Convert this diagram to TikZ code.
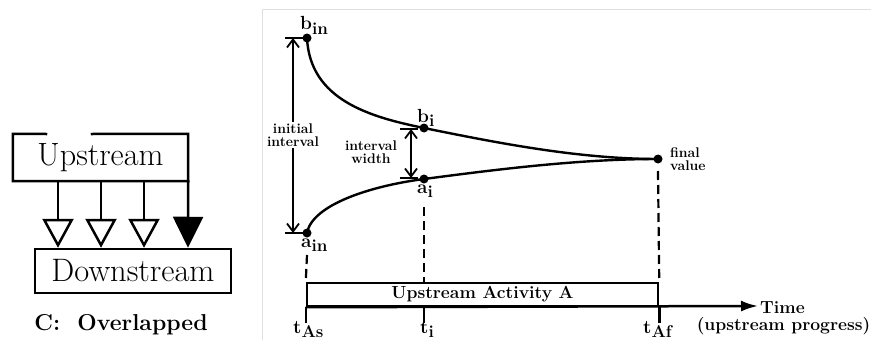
\documentclass[tikz,border=0pt]{standalone}
\usepackage{fontspec}
\usetikzlibrary{arrows.meta}
\newcommand\vsub[2]{#1\raisebox{-4.5pt}{\fontsize{17}{17}\selectfont #2}}
\begin{document}
\begin{tikzpicture}[x=1pt,y=-1pt,
  edge/.style={line width=2.5pt},
  bigtext/.style={font=\fontsize{29.5}{32}\selectfont, inner sep=0pt},
  dot/.style={circle, fill=black, inner sep=0pt, minimum size=9pt},
  lbl/.style={font=\bfseries\fontsize{19}{19}\selectfont, inner sep=0pt, anchor=base west},
  note/.style={font=\bfseries\fontsize{14}{13.5}\selectfont, align=center, inner sep=1pt},
  axistext/.style={font=\bfseries\fontsize{17.5}{18}\selectfont, inner sep=0pt},
  curve/.style={line width=2.4pt},
  drop/.style={line width=2.2pt, dash pattern=on 9pt off 5pt},
  barb/.style={line width=1.8pt},
  openhead/.style={-{Triangle[open,length=29pt,width=31pt,line width=2.5pt]}},
  fullhead/.style={-{Triangle[length=31pt,width=30pt]}},
]
\useasboundingbox (0,0) rectangle (871,340);

% ---------------- left: overlapped activities ----------------
\node[bigtext, minimum width=175pt, minimum height=47pt] (up) at (100.5,157.5) {\resizebox{126pt}{!}{Upstream}};
\node[bigtext, draw, edge, minimum width=196pt, minimum height=44pt] (down) at (133,271) {\resizebox{163pt}{!}{Downstream}};
\node[font=\bfseries\fontsize{23}{24}\selectfont, inner sep=0pt] (cap) at (121,325) {C:~~Overlapped};

% upstream box, with the short break in its top edge
\draw[edge, line cap=rect] (46,134) -- (up.north west) -- (up.south west) -- (up.south east);
\draw[edge, line cap=rect] (92,134) -- (up.north east) -- (up.south east);

% information transfer arrows
\foreach \xx in {58,101,144}
  \draw[edge, openhead] (up.south -| \xx,0) -- (down.north -| \xx,0);
\draw[edge, fullhead] (up.south east) -- (down.north -| 188,0);

% ---------------- right: interval narrowing ----------------
\draw[gray!25, line width=1pt] (262,340) -- (262,9) -- (871,9);

\node[dot] (bin) at (307,38) {};
\node[dot] (bi)  at (424,128) {};
\node[dot] (ain) at (307,233) {};
\node[dot] (ai)  at (424,179) {};
\node[dot] (fin) at (658,159) {};

\draw[curve] (bin.center) .. controls (310,100) and (370,117) .. (bi.center)
             .. controls (500,143.5) and (580,159) .. (fin.center);
\draw[curve] (ain.center) .. controls (312,205) and (370,186) .. (ai.center)
             .. controls (500,169) and (580,159) .. (fin.center);

\node[lbl] (lbin) at (300,30)  {\vsub{b}{in}};
\node[lbl] (lbi)  at (417,122) {\vsub{b}{i}};
\node[lbl] (lai)  at (417,193) {\vsub{a}{i}};
\node[lbl] (lain) at (301,247) {\vsub{a}{in}};
\node[note, anchor=west, align=left] (lfin) at (669,159) {final\\value};

% initial interval
\draw[barb] (285,38) -- (303,38);
\draw[barb] (285,233) -- (303,233);
\node[note] (init) at (293,135) {initial\\interval};
\coordinate (itop) at (293,38);
\coordinate (ibot) at (293,233);
\draw[barb, -{Straight Barb[length=8pt,width=12pt]}] (init.north) -- (itop);
\draw[barb, -{Straight Barb[length=8pt,width=12pt]}] (init.south) -- (ibot);

% interval width
\draw[barb] (400,129) -- (418,129);
\draw[barb] (400,178) -- (418,178);
\coordinate (wtop) at (411,129);
\coordinate (wbot) at (411,178);
\draw[barb, {Straight Barb[length=8pt,width=12pt]}-{Straight Barb[length=8pt,width=12pt]}] (wtop) -- (wbot);
\node[note] (wid) at (371,152) {interval\\width};

% activity bar and time axis
\node[draw, edge, minimum width=351pt, minimum height=23pt, inner sep=0pt, axistext] (act) at (482.5,294.5) {Upstream Activity A};
\coordinate (tend) at (758,306);
\draw[edge, -{Latex[length=17pt,width=11pt]}] (act.south west) -- (tend);
\node[axistext, anchor=west] (tlab) at (760,308) {Time};
\node[axistext] (tsub) at (783.5,326) {(upstream progress)};

% projections onto the time axis
\draw[drop] ([yshift=-22pt]ain.center) -- (act.north west);
\draw[drop] ([yshift=-28pt]ai.center) -- (act.north -| ai);
\draw[drop] ([yshift=-12pt]fin.center) -- (act.north east);

\draw[edge] (act.south west) -- ++(0,16);
\draw[edge] (act.south -| ai) -- ++(0,16);
\draw[edge] (act.south east) -- ++(0,16);

\node[lbl] (tas) at (293,333) {\vsub{t}{As}};
\node[lbl] (ti)  at (420,333) {\vsub{t}{i}};
\node[lbl] (taf) at (643,333) {\vsub{t}{Af}};
\end{tikzpicture}
\end{document}
